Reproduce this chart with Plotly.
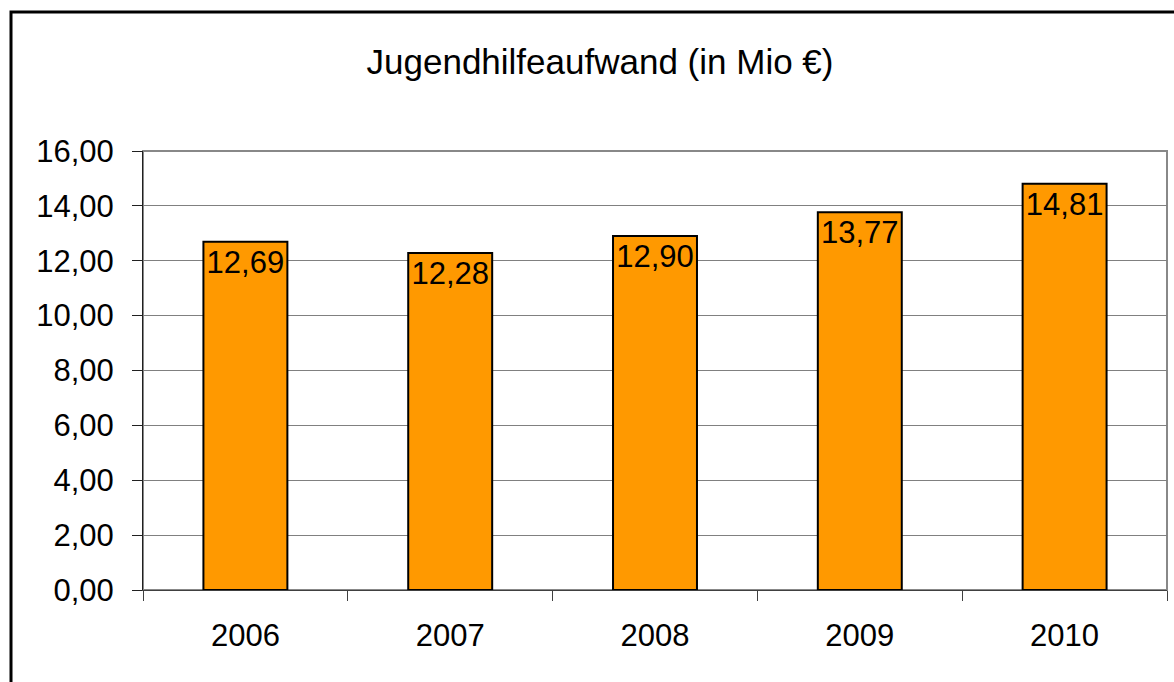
import plotly.graph_objects as go

years = ["2006", "2007", "2008", "2009", "2010"]
values = [12.69, 12.28, 12.90, 13.77, 14.81]
title_text = "Jugendhilfeaufwand (in Mio €)"

W, H = 1174, 682
L, R, T, B = 143, 7, 151, 92
pw, ph = W - L - R, H - T - B
FS = 31

fig = go.Figure(go.Bar(
    x=years, y=values,
    marker=dict(color="#FF9900", line=dict(color="black", width=2)),
    texttemplate="%{y:.2f}", textposition="inside", insidetextanchor="end",
    textfont=dict(size=FS, color="black", family="Liberation Sans"),
    textangle=0, cliponaxis=False,
))

fig.update_layout(
    width=W, height=H,
    margin=dict(l=L, r=R, t=T, b=B),
    paper_bgcolor="white", plot_bgcolor="white",
    separators=",.",
    bargap=0.59,
    font=dict(family="Liberation Sans", size=FS, color="black"),
    title=dict(text=title_text, x=600 / W, xanchor="center", xref="container",
               y=1 - 62 / H, yanchor="middle", yref="container",
               font=dict(size=35, family="Liberation Sans", color="black")),
    showlegend=False,
    xaxis=dict(type="category", tickson="boundaries", ticks="outside", ticklen=10,
               tickcolor="#404040", showline=True, linecolor="#404040", linewidth=1,
               showgrid=False, ticklabelstandoff=18, tickfont=dict(size=FS)),
    yaxis=dict(range=[0, 16], dtick=2, tickformat=".2f", ticks="outside", ticklen=10,
               tickcolor="#202020", showline=True, linecolor="#202020", linewidth=1,
               showgrid=True, gridcolor="#808080", gridwidth=1, zeroline=False,
               ticklabelstandoff=12, tickfont=dict(size=FS)),
    shapes=[
        dict(type="rect", xref="paper", yref="paper", x0=0, x1=1, y0=0, y1=1,
             line=dict(color="#888888", width=2), layer="below"),
        dict(type="rect", xref="paper", yref="paper",
             x0=(11 - L) / pw, x1=(W + 20 - L) / pw,
             y0=-(H + 20 - (T + ph)) / ph, y1=(T + ph - 12) / ph,
             line=dict(color="black", width=3)),
    ],
)

fig.write_html("out.html", config={"displayModeBar": False},
               post_script="document.body.style.margin='0';")
